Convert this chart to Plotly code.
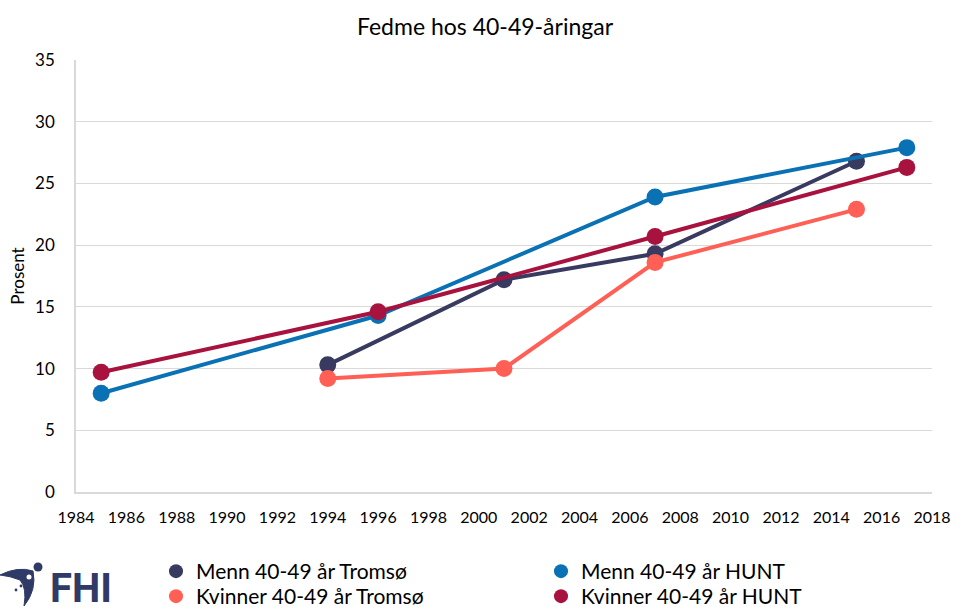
import plotly.graph_objects as go

years_tromso = [1994, 2001, 2007, 2015]
years_hunt = [1985, 1996, 2007, 2017]
menn_tromso = [10.3, 17.2, 19.3, 26.8]
menn_hunt = [8.0, 14.3, 23.9, 27.9]
kvinner_tromso = [9.2, 10.0, 18.6, 22.9]
kvinner_hunt = [9.7, 14.6, 20.7, 26.3]

names = ["Menn 40-49 år Tromsø", "Menn 40-49 år HUNT",
         "Kvinner 40-49 år Tromsø", "Kvinner 40-49 år HUNT"]
colors = ["#383a60", "#0a72b4", "#ff5f55", "#a8123e"]
legend_ids = ["legend", "legend2", "legend3", "legend4"]

FONT = "Lato"
W, H = 970, 611
ML, MR, MT, MB = 76, 38, 60, 119
PW, PH = W - ML - MR, H - MT - MB


def px(x, y):
    return f"{(x - ML) / PW:.4f},{(H - MB - y) / PH:.4f}"


fig = go.Figure()
series = [
    (years_tromso, menn_tromso),
    (years_hunt, menn_hunt),
    (years_tromso, kvinner_tromso),
    (years_hunt, kvinner_hunt),
]
for (xs, ys), name, col in zip(series, names, colors):
    fig.add_trace(go.Scatter(x=xs, y=ys, mode="lines+markers", name=name,
                             line=dict(color=col, width=4),
                             marker=dict(color=col, size=17),
                             showlegend=False))
for name, col, lg in zip(names, colors, legend_ids):
    fig.add_trace(go.Scatter(x=[None], y=[None], mode="markers", name=name,
                             legend=lg, marker=dict(color=col, size=14)))

leg_common = dict(orientation="v", yanchor="top", xanchor="left",
                  font=dict(size=21, family=FONT, color="#000000"),
                  itemwidth=30, tracegroupgap=0, bgcolor="rgba(0,0,0,0)")

# legend box anchor positions (px in the picture): column x, row top y
col_x = [156, 541]
row_y = [551, 576]

fig.update_layout(
    width=W, height=H,
    margin=dict(l=ML, r=MR, t=MT, b=MB, autoexpand=False),
    paper_bgcolor="white", plot_bgcolor="white",
    font=dict(family=FONT, size=16, color="#000000"),
    title=dict(text="Fedme hos 40-49-åringar", x=0.5, xanchor="center",
               y=1 - 27 / H, yanchor="middle", font=dict(size=23, family=FONT)),
    xaxis=dict(range=[1984, 2018], tickmode="linear", tick0=1984, dtick=2,
               showgrid=False, showline=True, linecolor="#d9d9d9", linewidth=1.5,
               zeroline=False, ticks="", ticklabelstandoff=10,
               tickfont=dict(size=16)),
    yaxis=dict(range=[0, 35], tickmode="linear", tick0=0, dtick=5,
               showgrid=True, gridcolor="#d9d9d9", gridwidth=1.2,
               showline=True, linecolor="#d9d9d9", linewidth=1.5,
               zeroline=False, ticks="", ticklabelstandoff=16,
               title=dict(text="Prosent", font=dict(size=17), standoff=6),
               tickfont=dict(size=17)),
    legend=dict(x=(col_x[0] - ML) / PW, y=(H - MB - row_y[0]) / PH, **leg_common),
    legend2=dict(x=(col_x[1] - ML) / PW, y=(H - MB - row_y[0]) / PH, **leg_common),
    legend3=dict(x=(col_x[0] - ML) / PW, y=(H - MB - row_y[1]) / PH, **leg_common),
    legend4=dict(x=(col_x[1] - ML) / PW, y=(H - MB - row_y[1]) / PH, **leg_common),
)

NAVY = "#2f3a66"
# FHI logo
fig.add_annotation(xref="paper", yref="paper", x=(48 - ML) / PW, y=(H - MB - 588) / PH,
                   xanchor="left", yanchor="middle", showarrow=False,
                   text="<b>FHI</b>", font=dict(size=40, family="Roboto", color=NAVY))
fig.add_shape(type="path", xref="paper", yref="paper",
              path=f"M {px(0, 575)} Q {px(18, 566)} {px(33, 571)} "
                   f"Q {px(37, 590)} {px(24, 606)} Q {px(27, 588)} {px(20, 580)} "
                   f"Q {px(10, 576)} {px(0, 575)} Z",
              fillcolor=NAVY, line=dict(color=NAVY, width=1))


def circ(cx, cy, r, color):
    fig.add_shape(type="circle", xref="paper", yref="paper",
                  x0=(cx - r - ML) / PW, x1=(cx + r - ML) / PW,
                  y0=(H - MB - cy - r) / PH, y1=(H - MB - cy + r) / PH,
                  fillcolor=color, line=dict(color=color, width=0))


circ(38, 567, 4.5, NAVY)
circ(29, 577, 2.5, "white")
circ(16, 590, 1.4, NAVY)
circ(21, 586, 1.4, NAVY)

fig.write_html("out.html", config={"displayModeBar": False},
               post_script="document.body.style.margin='0';document.body.style.overflow='hidden';")
